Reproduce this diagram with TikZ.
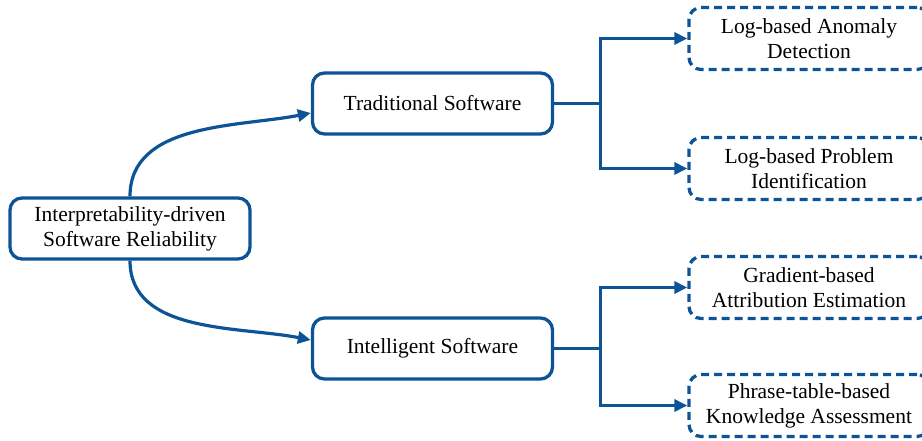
\documentclass[tikz,border=0pt]{standalone}
\usepackage{fontspec}
\setmainfont{Liberation Serif}
\usetikzlibrary{arrows.meta,calc}
\definecolor{linkblue}{RGB}{12,84,150}
\begin{document}
\begin{tikzpicture}[x=1pt,y=-1pt,
  every node/.style={font=\fontsize{21.5}{25}\selectfont, align=center, inner sep=0pt},
  solidbox/.style={draw=linkblue, line width=3.3pt, rounded corners=12pt,
    minimum width=240pt, minimum height=61pt, fill=white},
  dashbox/.style={draw=linkblue, line width=3.3pt, rounded corners=12pt,
    dash pattern=on 8pt off 5pt, minimum width=240pt, minimum height=62pt},
  link/.style={draw=linkblue, line width=3.2pt},
  linkarrow/.style={link, -{Triangle[length=13pt,width=12pt]}}]
\useasboundingbox (0,0) rectangle (922,441);

% main boxes
\node[solidbox] (root) at (130,228.5) {Interpretability-driven\\Software Reliability};
\node[solidbox] (trad) at (432.5,103.5) {Traditional Software};
\node[solidbox] (intel) at (432.5,348.5) {Intelligent Software};

% leaf boxes (running off the right edge)
\node[dashbox] (lad) at (809,38.5) {Log-based Anomaly\\Detection};
\node[dashbox] (lpi) at (809,168.5) {Log-based Problem\\Identification};
\node[dashbox] (gae) at (809,287.5) {Gradient-based\\Attribution Estimation};
\node[dashbox] (pka) at (809,405.5) {Phrase-table-based\\Knowledge Assessment};

% curved links from the root
\coordinate (tradin) at ($(trad.west)+(0,9.5)$);
\coordinate (intelin) at ($(intel.west)+(0,-8.5)$);
\draw[linkarrow] (root.north) to[out=90, in=191, looseness=0.95] (tradin);
\draw[linkarrow] (root.south) to[out=-90, in=169, looseness=0.95] (intelin);

% bracket links to leaves
\coordinate (tj) at ($(trad.east)+(46,0)$);
\coordinate (ij) at ($(intel.east)+(46,0)$);
\draw[link] (trad.east) -- (tj);
\draw[linkarrow] (tj) |- (lad.west);
\draw[linkarrow] (tj) |- (lpi.west);
\draw[link] (intel.east) -- (ij);
\draw[linkarrow] (ij) |- (gae.west);
\draw[linkarrow] (ij) |- (pka.west);
\end{tikzpicture}
\end{document}
